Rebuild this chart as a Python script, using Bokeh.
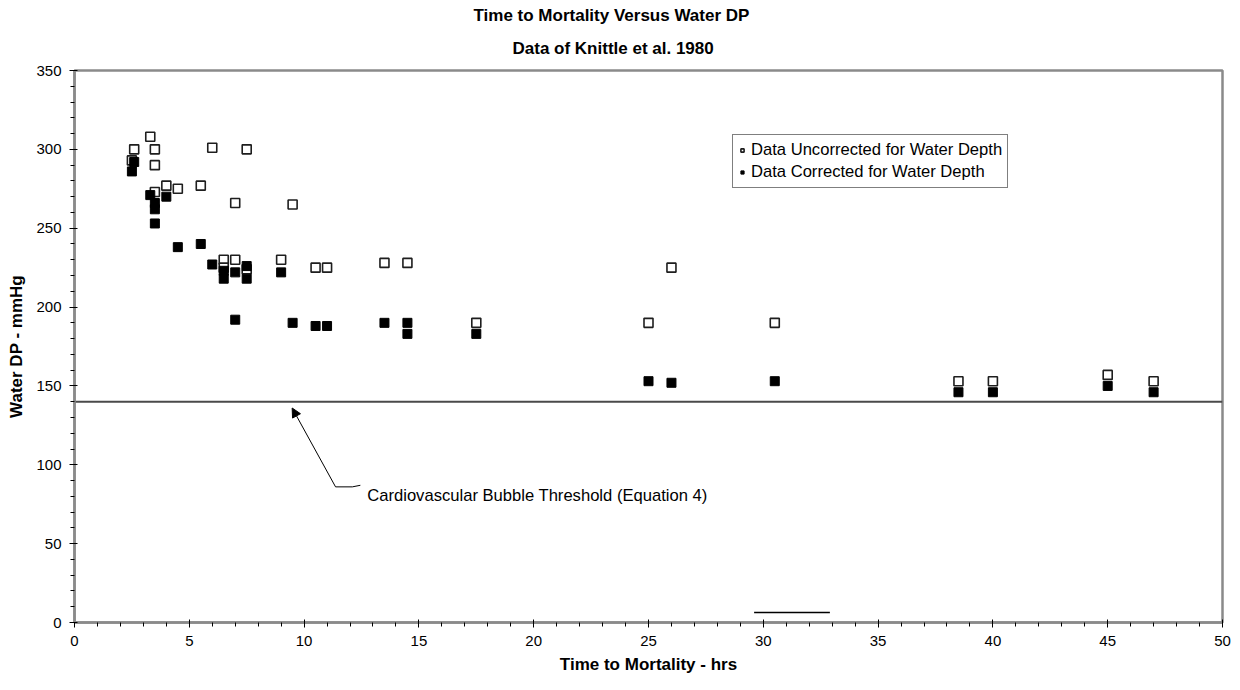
from bokeh.plotting import figure
from bokeh.models import (Range1d, Legend, LegendItem, Label, Arrow, NormalHead,
                          FixedTicker, Title)
from bokeh.embed import file_html
from bokeh.resources import INLINE

# ---------------- data ----------------
uncorr_hours = [2.5, 2.6, 3.3, 3.5, 3.5, 3.5, 4.0, 4.5, 5.5, 6.0, 7.5, 7.0, 9.5,
                6.5, 7.0, 6.5, 7.5, 9.0, 10.5, 11.0, 13.5, 14.5, 17.5,
                25.0, 26.0, 30.5, 38.5, 40.0, 45.0, 47.0]
uncorr_dp = [293, 300, 308, 300, 290, 273, 277, 275, 277, 301, 300, 266, 265,
             230, 230, 225, 224, 230, 225, 225, 228, 228, 190,
             190, 225, 190, 153, 153, 157, 153]

corr_hours = [2.5, 2.6, 3.3, 3.5, 3.5, 3.5, 4.0, 4.5, 5.5, 6.0, 6.5, 6.5, 7.0,
              7.5, 7.5, 9.0, 7.0, 9.5, 10.5, 11.0, 13.5, 14.5, 14.5, 17.5,
              25.0, 26.0, 30.5, 38.5, 40.0, 45.0, 47.0]
corr_dp = [286, 292, 271, 266, 262, 253, 270, 238, 240, 227, 223, 218, 222,
           226, 218, 222, 192, 190, 188, 188, 190, 190, 183, 183,
           153, 152, 153, 146, 146, 150, 146]

threshold_dp = 140
threshold_hours = [0, 50]

x_ticks = [0, 5, 10, 15, 20, 25, 30, 35, 40, 45, 50]
y_ticks = [0, 50, 100, 150, 200, 250, 300, 350]

title_main = "Time to Mortality Versus Water DP"
title_sub = "Data of Knittle et al. 1980"
x_label = "Time to Mortality - hrs"
y_label = "Water DP - mmHg"
legend_uncorr = "Data Uncorrected for Water Depth"
legend_corr = "Data Corrected for Water Depth"
note_text = "Cardiovascular Bubble Threshold (Equation 4)"

# annotation geometry (data units)
note_tip = (9.48, 136)
note_elbow = (11.37, 86)
note_leader_x = [11.37, 12.1, 12.45]
note_leader_y = [86, 86, 87]
note_pos = (12.75, 80.5)

stray_x = [29.6, 32.9]
stray_y = [6.3, 6.3]

FONT = "Liberation Sans"

p = figure(width=1240, height=690, output_backend="svg", toolbar_location=None,
           x_range=Range1d(0, 50), y_range=Range1d(0, 350),
           min_border_left=74, min_border_right=18, min_border_top=70,
           min_border_bottom=68, title=None)
p.grid.visible = False
p.background_fill_color = "white"
p.border_fill_color = "white"
p.outline_line_color = "#8a8a8a"
p.outline_line_width = 2.5

# titles (stacked above the frame, left-anchored with pixel offsets)
p.add_layout(Title(text=title_sub, align="left", offset=438, standoff=25,
                   vertical_align="bottom", text_font=FONT, text_font_size="17px",
                   text_font_style="bold", text_color="black"), "above")
p.add_layout(Title(text=title_main, align="left", offset=399, standoff=0,
                   vertical_align="bottom", text_font=FONT, text_font_size="17px",
                   text_font_style="bold", text_color="black"), "above")

# axes
for ax in (p.xaxis[0], p.yaxis[0]):
    ax.axis_line_color = "#8a8a8a"
    ax.axis_line_width = 2.5
    ax.major_tick_line_color = "black"
    ax.minor_tick_line_color = "black"
    ax.major_label_text_font = FONT
    ax.major_label_text_font_size = "15px"
    ax.major_label_text_color = "black"
    ax.axis_label_text_font = FONT
    ax.axis_label_text_font_style = "bold"
    ax.axis_label_text_font_size = "17px"
    ax.axis_label_text_color = "black"
    ax.major_tick_in = 3
    ax.major_tick_out = 5
    ax.minor_tick_in = 0
    ax.minor_tick_out = 4

p.xaxis.ticker = FixedTicker(ticks=x_ticks, minor_ticks=list(range(0, 51)))
p.yaxis.ticker = FixedTicker(ticks=y_ticks, minor_ticks=list(range(0, 351, 10)))
p.xaxis.major_label_standoff = 8
p.yaxis.major_label_standoff = 8
p.xaxis.axis_label = x_label
p.xaxis.axis_label_standoff = 6
p.yaxis.axis_label = y_label
p.yaxis.axis_label_standoff = 7

# threshold line
p.line(threshold_hours, [threshold_dp, threshold_dp], line_color="#4a4a4a", line_width=2)

# stray segment
p.line(stray_x, stray_y, line_color="black", line_width=1.5)

# data
r_open = p.scatter(uncorr_hours, uncorr_dp, marker="square", size=9,
                   fill_color="white", line_color="#1e1e1e", line_width=1.6)
r_fill = p.scatter(corr_hours, corr_dp, marker="square", size=9,
                   fill_color="black", line_color="black", line_width=1)

legend = Legend(items=[LegendItem(label=legend_uncorr, renderers=[r_open]),
                       LegendItem(label=legend_corr, renderers=[r_fill])],
                location=(658, 434), border_line_color="black", border_line_width=1,
                label_text_font=FONT, label_text_font_size="16.6px",
                label_text_color="black", glyph_width=8, glyph_height=8,
                label_height=20, label_standoff=5, spacing=2, padding=5, margin=0,
                background_fill_alpha=1)
p.add_layout(legend, "center")

# annotation
p.add_layout(Arrow(end=NormalHead(size=9, fill_color="black", line_color="black"),
                   x_start=note_elbow[0], y_start=note_elbow[1],
                   x_end=note_tip[0], y_end=note_tip[1],
                   line_color="black", line_width=1))
p.line(note_leader_x, note_leader_y, line_color="black", line_width=1)
p.add_layout(Label(x=note_pos[0], y=note_pos[1], text=note_text,
                   text_align="left", text_baseline="middle",
                   text_font=FONT, text_font_size="16.6px", text_color="black"))

open("out.html", "w").write(file_html(p, INLINE))
